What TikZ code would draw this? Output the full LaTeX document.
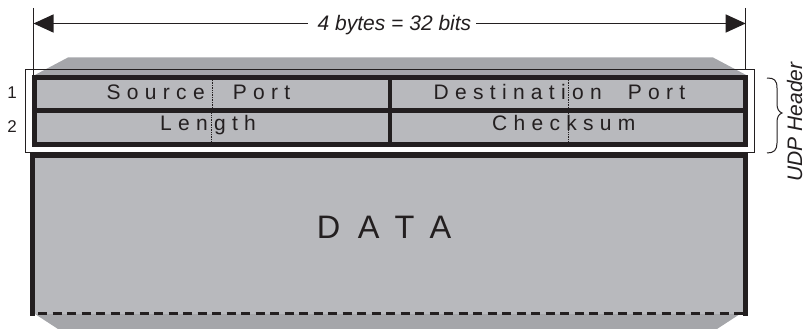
\documentclass[tikz,border=0pt]{standalone}
\usepackage{fontspec}
\setmainfont{Liberation Sans}
\usetikzlibrary{arrows.meta,calc}
\definecolor{ink}{HTML}{231F20}
\definecolor{boxfill}{HTML}{B8B9BD}
\definecolor{bevel}{HTML}{A5A6AA}
\begin{document}
\begin{tikzpicture}[x=1pt,y=-1pt,
  thickline/.style={draw=ink,line width=5pt},
  thinline/.style={draw=ink,line width=0.8pt},
  byteline/.style={draw=ink,line width=0.6pt,dash pattern=on 0.8pt off 0.9pt},
  lbl/.style={inner sep=0pt,text=ink,font=\fontsize{21}{25}\selectfont\addfontfeature{LetterSpace=30}},
  datalbl/.style={inner sep=0pt,text=ink,font=\fontsize{32.5}{38}\selectfont\addfontfeature{LetterSpace=54}},
  numlbl/.style={inner sep=0pt,text=ink,font=\fontsize{17}{20}\selectfont},
  itlbl/.style={inner sep=0pt,text=ink,font=\fontsize{21}{25}\selectfont\itshape},
  dimarrow/.style={draw=ink,line width=1.3pt,-{Triangle[length=20pt,width=18pt]}}]
\useasboundingbox (0,0) rectangle (807,329);

% bevels
\fill[bevel] (33,76) -- (68.3,57.3) -- (712.7,57.3) -- (748,76) -- cycle;
\fill[bevel] (35,314) -- (58,329) -- (717,329) -- (740,314) -- cycle;

% thin bracket box around header
\draw[thinline] (25.7,69.3) rectangle (754,152.7);

% header
\fill[boxfill] (34.2,77.5) rectangle (745.8,144.5);
\draw[byteline] (212,80) -- (212,108.5);
\draw[byteline] (211,113.5) -- (211,142);
\draw[byteline] (568,80) -- (568,108.5);
\draw[byteline] (568,113.5) -- (568,142);
\draw[thickline] (34.2,77.5) rectangle (745.8,144.5);
\draw[thickline] (34.2,111) -- (745.8,111);
\draw[thickline,line width=4pt] (390.3,77.5) -- (390.3,144.5);

% data box
\fill[boxfill] (32.5,155.5) rectangle (745,313.5);
\draw[thickline] (32.5,315.5) -- (32.5,155.5) -- (745,155.5) -- (745,315.5);
\draw[draw=ink,line width=2.7pt,dash pattern=on 9pt off 5.5pt,dash phase=-3pt] (35,313.5) -- (742.5,313.5);

% labels
\node[lbl,anchor=base west] (src) at (106.5,100) {Source\hspace{16pt} Port};
\node[lbl,anchor=base west] (dst) at (433.5,100) {Destination\hspace{14pt} Port};
\node[lbl,anchor=base west] (len) at (160,130.7) {Length};
\node[lbl,anchor=base west] (chk) at (492,130.7) {Checksum};
\node[datalbl,anchor=base west] (data) at (316.7,238.3) {DATA};
\node[numlbl,anchor=base] (n1) at (12,98.5) {1};
\node[numlbl,anchor=base] (n2) at (12,132.7) {2};

% width dimension
\coordinate (L) at (33.5,23.5);
\coordinate (R) at (745.7,23.5);
\draw[thinline] (33.5,8) -- (33.5,75);
\draw[thinline] (745.7,8) -- (745.7,69.3);
\node[itlbl,anchor=base west] (bits) at (317.5,31) {4 bytes = 32 bits};
\draw[dimarrow] ($(bits.west |- L)+(-10,0)$) -- (L);
\draw[dimarrow] ($(bits.east |- R)+(5,0)$) -- (R);

% brace and UDP Header
\draw[ink,line width=1pt] (767,78) .. controls (774,78) and (777,80) .. (777,88) -- (777,104)
  .. controls (777,109) and (779,112) .. (782,113)
  .. controls (779,114) and (777,117) .. (777,122) -- (777,143)
  .. controls (777,150) and (774,153) .. (767,153);
\node[itlbl,rotate=90,anchor=base] (udp) at (802,122) {UDP Header};
\end{tikzpicture}
\end{document}
